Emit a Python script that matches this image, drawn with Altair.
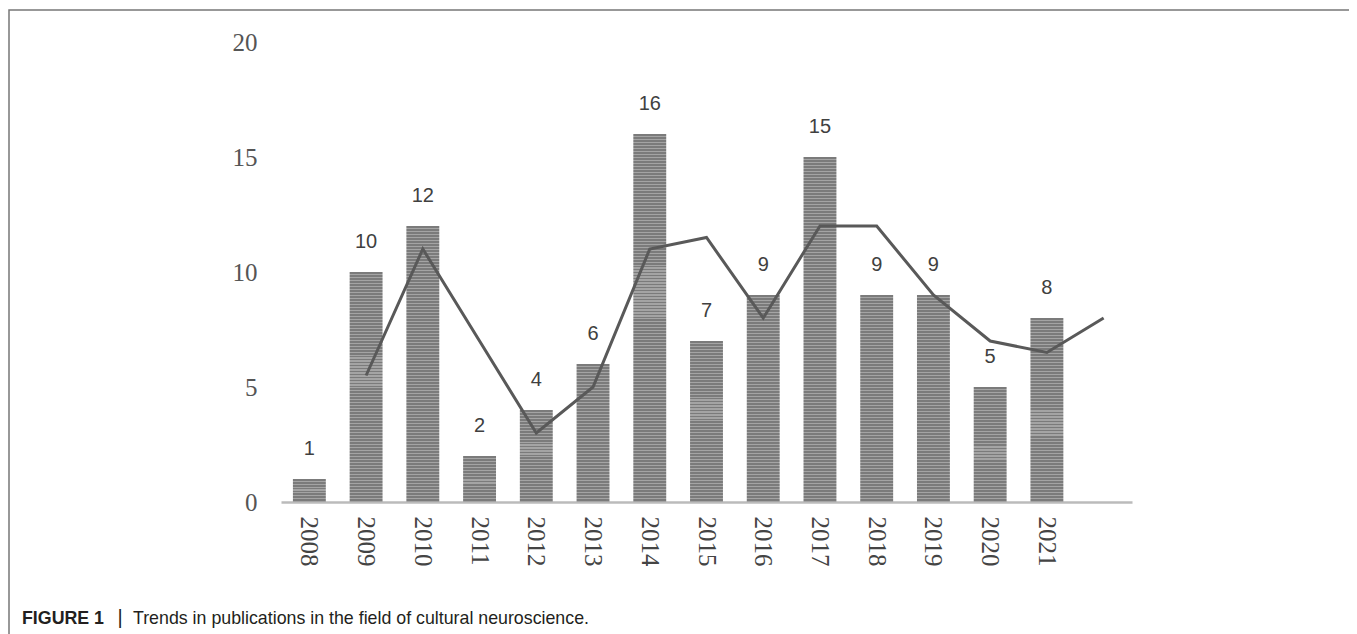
import altair as alt
import pandas as pd

# ---- data ----
years = ["2008", "2009", "2010", "2011", "2012", "2013", "2014",
         "2015", "2016", "2017", "2018", "2019", "2020", "2021"]
counts = [1, 10, 12, 2, 4, 6, 16, 7, 9, 15, 9, 9, 5, 8]
trend_years = ["2009", "2010", "2011", "2012", "2013", "2014", "2015",
               "2016", "2017", "2018", "2019", "2020", "2021", "2022"]
trend_values = [5.5, 11, 7, 3, 5, 11, 11.5, 8, 12, 12, 9, 7, 6.5, 8]
axis_domain = years + ["2022"]
y_ticks = [0, 5, 10, 15, 20]
caption_bold = "FIGURE 1"
caption_bar = "|"
caption_text = "Trends in publications in the field of cultural neuroscience."

W, H = 851, 460
LEFT, TOP = 273, 34
Y_MAX = 20
STRIPE_PX = 3.0  # period of the horizontal hatch inside bars
OX, OY = 8 + LEFT, 8 + TOP  # page position of the plot origin


def stripe_gradient(bar_height_px):
    """Horizontal hatch fill as a hard-stop vertical linear gradient."""
    n = max(1, round(bar_height_px / STRIPE_PX))
    stops = []
    for i in range(n):
        a = i / n
        b = (i + 0.62) / n
        c = (i + 1) / n
        stops += [
            alt.GradientStop(offset=a, color="#7b7b7b"),
            alt.GradientStop(offset=b, color="#7b7b7b"),
            alt.GradientStop(offset=b, color="#a4a4a4"),
            alt.GradientStop(offset=c, color="#a4a4a4"),
        ]
    return alt.LinearGradient(gradient="linear", stops=stops, x1=0, x2=0, y1=0, y2=1)


bars_df = pd.DataFrame({"year": years, "count": counts})
trend_df = pd.DataFrame({"year": trend_years, "count": trend_values})
one = pd.DataFrame({"k": [0]})

x = alt.X(
    "year:N",
    scale=alt.Scale(domain=axis_domain, paddingInner=0.42, paddingOuter=0.21),
    axis=alt.Axis(
        title=None, labelAngle=90, labelFont="Liberation Serif", labelFontSize=25,
        labelColor="#444444", labelPadding=14, ticks=False, tickSize=0,
        domainColor="#bbbbbb", domainWidth=2.5,
        labelExpr="datum.value == '2022' ? '' : datum.value",
    ),
)
y = alt.Y(
    "count:Q",
    scale=alt.Scale(domain=[0, Y_MAX]),
    axis=alt.Axis(
        title=None, values=y_ticks, grid=False, domain=False, ticks=False, tickSize=0,
        labelFont="Liberation Serif", labelFontSize=25, labelColor="#555555",
        labelPadding=24,
    ),
)

bar_layers = []
for v in sorted(set(counts)):
    grad = stripe_gradient(v / Y_MAX * H)
    bar_layers.append(
        alt.Chart(bars_df)
        .transform_filter(alt.datum["count"] == v)
        .mark_bar(color=grad)
        .encode(x=x, y=y)
    )

labels = alt.Chart(bars_df).mark_text(
    dy=-30, fontSize=20, font="Liberation Sans", color="#404040", baseline="middle"
).encode(x=x, y=y, text="count:Q")

trend = alt.Chart(trend_df).mark_line(color="#595959", strokeWidth=3).encode(x=x, y=y)

frame = alt.Chart(one).mark_rect(fillOpacity=0, stroke="#777777", strokeWidth=1.5).encode(
    x=alt.value(9 - OX), x2=alt.value(1354 - OX),
    y=alt.value(10 - OY), y2=alt.value(640 - OY),
)

cap1 = alt.Chart(one).mark_text(
    align="left", baseline="middle", font="Liberation Sans", fontSize=17.8,
    fontWeight="bold", color="#231f20",
).encode(x=alt.value(22 - OX), y=alt.value(619 - OY), text=alt.value(caption_bold))
cap2 = alt.Chart(one).mark_text(
    align="center", baseline="middle", font="Liberation Sans", fontSize=20,
    color="#231f20",
).encode(x=alt.value(120 - OX), y=alt.value(618 - OY), text=alt.value(caption_bar))
cap3 = alt.Chart(one).mark_text(
    align="left", baseline="middle", font="Liberation Sans", fontSize=17.8,
    color="#231f20",
).encode(x=alt.value(133 - OX), y=alt.value(619 - OY), text=alt.value(caption_text))

chart = alt.layer(*bar_layers, trend, labels, frame, cap1, cap2, cap3).properties(
    width=W, height=H,
    padding={"left": LEFT, "top": TOP, "right": 1341 - LEFT - W, "bottom": 626 - TOP - H},
    autosize=alt.AutoSizeParams(type="none"),
).configure_view(stroke=None)

chart.save("out.html", embed_options={"renderer": "svg", "actions": False})
